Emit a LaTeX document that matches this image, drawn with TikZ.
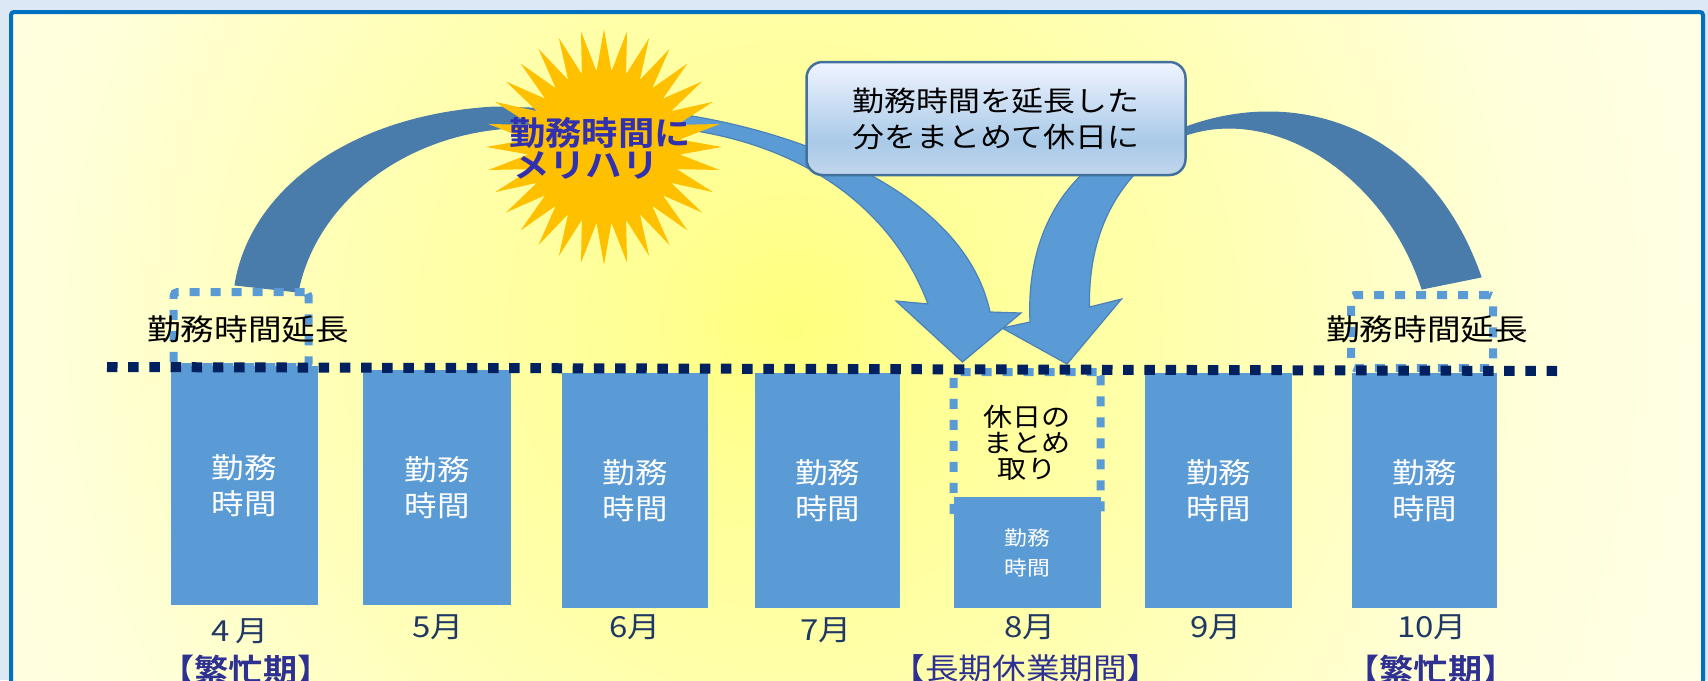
\documentclass[tikz,border=0pt]{standalone}
\usepackage{fontspec}
\usetikzlibrary{shapes.geometric}
\newfontfamily\jpwide[FakeStretch=1.14]{Noto Sans CJK JP}
\newfontfamily\jpbold[FakeStretch=1.1]{Noto Sans CJK JP Bold}
\definecolor{pagebg}{HTML}{DCE8F6}
\definecolor{framecol}{HTML}{0070C0}
\definecolor{barcol}{HTML}{5B9BD5}
\definecolor{darkarc}{HTML}{4A7CAB}
\definecolor{arcline}{HTML}{4A82B8}
\definecolor{callline}{HTML}{41719C}
\definecolor{navydot}{HTML}{002060}
\definecolor{suncol}{HTML}{FFC000}
\definecolor{suntxt}{HTML}{3030B0}
\definecolor{monthtxt}{HTML}{1F3864}
\definecolor{termtxt}{HTML}{2E3192}
\definecolor{glowa}{HTML}{FFFF7D}
\definecolor{glowb}{HTML}{FFFF96}
\definecolor{glowc}{HTML}{FFFFAE}
\definecolor{glowd}{HTML}{FFFFDC}
\definecolor{glowe}{HTML}{FFFFE8}
\definecolor{calla}{HTML}{F0F4FF}
\definecolor{callb}{HTML}{A9CAE8}
\definecolor{callc}{HTML}{C2D6EC}
\pgfdeclareradialshading{glowfill}{\pgfpoint{0bp}{0bp}}{color(0bp)=(glowa); color(4bp)=(glowb); color(10bp)=(glowc); color(19bp)=(glowd); color(25bp)=(glowe); color(50bp)=(glowe)}
\pgfdeclareverticalshading{callfill}{100bp}{color(0bp)=(callc); color(25bp)=(callc); color(40bp)=(callb); color(75bp)=(calla); color(100bp)=(calla)}
\tikzset{
  barbox/.style={rectangle,fill=barcol,inner sep=0pt,outer sep=0pt,text=white,align=center,font=\jpwide\fontsize{28.5}{36}\selectfont},
  dottedbox/.style={rectangle,draw=barcol,line width=8pt,rounded corners=4pt,dash pattern=on 10pt off 11pt,inner sep=0pt,outer sep=0pt},
  lightarrow/.style={fill=barcol,draw=arcline,line width=1.2pt,line join=miter},
  darkarrow/.style={fill=darkarc,draw=darkarc,line width=1pt},
  blacktext/.style={text=black,align=center,inner sep=0pt,font=\jpwide\fontsize{29.5}{36}\selectfont},
  monthlabel/.style={text=monthtxt,inner sep=0pt,font=\jpwide\fontsize{29}{30}\selectfont},
  termlabel/.style={text=termtxt,inner sep=0pt,font=\jpwide\fontsize{29.5}{30}\selectfont},
  busylabel/.style={text=termtxt,inner sep=0pt,font=\jpbold\fontsize{31}{30}\selectfont},
}
\begin{document}
\begin{tikzpicture}[x=1pt,y=-1pt]
            \useasboundingbox (0,0) rectangle (1708,680);
            \fill[pagebg] (0,0) rectangle (1708,680);
            \begin{scope}
                \clip (11,12) rectangle (1703,700);
                \shade[shading=glowfill] (790,325) circle (1000);
            \end{scope}
            \draw[framecol,line width=4pt,rounded corners=3pt] (11,12) rectangle (1703,700);
            % arrows
            \draw[lightarrow] (1186,135) .. controls (1120,170) and (1088,230) .. (1089.5,307) -- (1121.5,299) -- (1067,364) -- (1002,328) -- (1030,322) .. controls (1026,240) and (1060,150) .. (1186,122) -- cycle;
            \draw[lightarrow] (620,108) .. controls (760,115) and (962,180) .. (990,312) -- (1021,313) -- (962.5,362) -- (896,301) -- (928,304) .. controls (885,190) and (770,125) .. (620,125) -- cycle;
            \draw[darkarrow] (235,285) .. controls (250,190) and (350,115) .. (495,107) -- (600,110) -- (600,125) -- (510,128) .. controls (400,135) and (315,205) .. (298,292) -- cycle;
            \draw[darkarrow] (1186,127) .. controls (1300,85) and (1430,130) .. (1481,277) -- (1422,289) .. controls (1385,175) and (1275,105) .. (1186,135) -- cycle;
            % dotted boxes behind the bars
            \node (boxapr) [dottedbox,minimum width=135pt,minimum height=75pt] at (241,329.5) {};
            \node (boxaug) [dottedbox,minimum width=147pt,minimum height=148pt] at (1027,446) {};
            \node (boxoct) [dottedbox,minimum width=142pt,minimum height=73pt] at (1422,331.5) {};
            % bars
            \node (bar4) [barbox,minimum width=147pt,minimum height=239pt] at (244,485.5) {勤務\\時間};
            \node (bar5) [barbox,minimum width=148pt,minimum height=235pt] at (437,487.5) {勤務\\時間};
            \node (bar6) [barbox,minimum width=146pt,minimum height=235pt] at (635,490.5) {勤務\\時間};
            \node (bar7) [barbox,minimum width=145pt,minimum height=235pt] at (827.5,490.5) {勤務\\時間};
            \node (bar8) [barbox,minimum width=147pt,minimum height=111pt,font=\jpwide\fontsize{20}{30}\selectfont] at (1027,552.5) {勤務\\時間};
            \node (bar9) [barbox,minimum width=147pt,minimum height=235pt] at (1218.5,490.5) {勤務\\時間};
            \node (bar10) [barbox,minimum width=145pt,minimum height=235pt] at (1424.5,490.5) {勤務\\時間};
            % dotted level
            \coordinate (levelstart) at (107,367);
            \coordinate (levelend) at (1557,371);
            \draw[navydot,line width=10pt,dash pattern=on 10.5pt off 10.67pt] (levelstart) -- (levelend);
            % labels
            \node (extendleft) [blacktext] at (248,329) {勤務時間延長};
            \node (extendright) [blacktext] at (1427,329) {勤務時間延長};
            \node (dayoff) [blacktext,font=\jpwide\fontsize{25.5}{26}\selectfont] at (1027,443) {休日の\\まとめ\\取り};
            \node (callout) [shading=callfill,draw=callline,line width=2.5pt,rounded corners=16pt,minimum width=379pt,minimum height=113pt,inner sep=0pt,align=center,font=\jpwide\fontsize{28}{36}\selectfont] at (996,118.5) {勤務時間を延長した\\分をまとめて休日に};
            \node (sun) [star,star points=32,star point ratio=1.55,fill=suncol,minimum size=236pt,inner sep=0pt] at (604,147) {};
            \node (suntext) [text=suntxt,align=left,inner sep=0pt,font=\jpbold\fontsize{33}{32}\selectfont] at (600,148) {勤務時間に\\\hspace{4pt}メリハリ};
            % months
            \node (m4) [monthlabel] at (240,631) {4\,月};
            \node (m5) [monthlabel] at (438,627) {5月};
            \node (m6) [monthlabel] at (635,627) {6月};
            \node (m7) [monthlabel] at (826,630) {7月};
            \node (m8) [monthlabel] at (1030,627) {8月};
            \node (m9) [monthlabel] at (1216,627) {9月};
            \node (m10) [monthlabel] at (1432,627) {10月};
            \node (busyleft) [busylabel] at (246,670) {【繁忙期】};
            \node (recess) [termlabel] at (1026,668) {【長期休業期間】};
            \node (busyright) [busylabel] at (1431,670) {【繁忙期】};
        \end{tikzpicture}
\end{document}
